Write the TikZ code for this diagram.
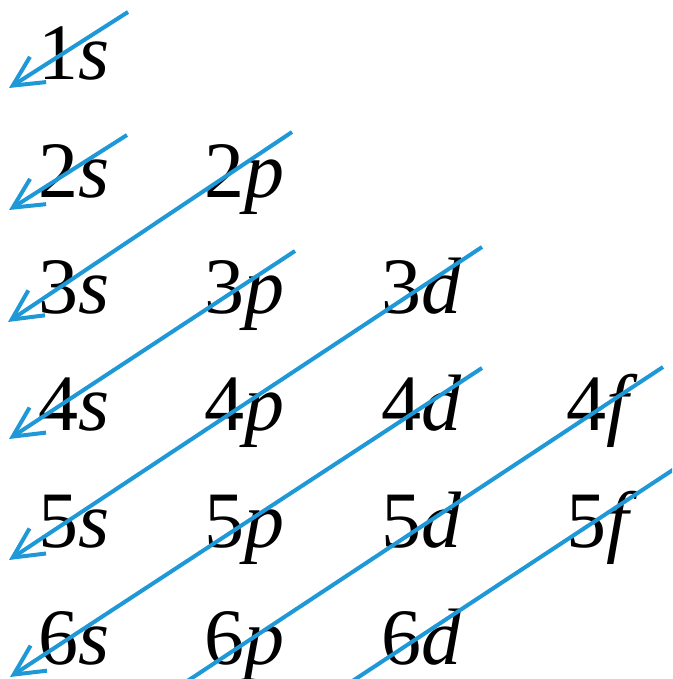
\documentclass[tikz,border=0pt]{standalone}
\usepackage{fontspec}
\setmainfont{Liberation Serif}
\usetikzlibrary{arrows.meta}
\definecolor{lineblue}{RGB}{30,152,215}
\tikzset{
  orb/.style={anchor=base west, inner sep=0pt, font=\fontsize{80}{90}\selectfont},
  order/.style={draw=lineblue, line width=4pt},
  orderarrow/.style={order, -{Straight Barb[length=30pt,width=30pt]}}
}
\newcommand{\orbl}[2]{#1\textit{#2}}
\begin{document}
\begin{tikzpicture}[x=1pt,y=-1pt]
\useasboundingbox (0,0) rectangle (672,679);
% orbital labels
\node[orb] (o1s) at (38,80)  {\orbl{1}{s}};
\node[orb] (o2s) at (38,197) {\orbl{2}{s}};
\node[orb] (o2p) at (204,197) {\orbl{2}{p}};
\node[orb] (o3s) at (38,313) {\orbl{3}{s}};
\node[orb] (o3p) at (204,313) {\orbl{3}{p}};
\node[orb] (o3d) at (381,313) {\orbl{3}{d}};
\node[orb] (o4s) at (38,430) {\orbl{4}{s}};
\node[orb] (o4p) at (204,430) {\orbl{4}{p}};
\node[orb] (o4d) at (381,430) {\orbl{4}{d}};
\node[orb] (o4f) at (566,430) {\orbl{4}{f}};
\node[orb] (o5s) at (38,547) {\orbl{5}{s}};
\node[orb] (o5p) at (204,547) {\orbl{5}{p}};
\node[orb] (o5d) at (381,547) {\orbl{5}{d}};
\node[orb] (o5f) at (566,547) {\orbl{5}{f}};
\node[orb] (o6s) at (38,664) {\orbl{6}{s}};
\node[orb] (o6p) at (204,664) {\orbl{6}{p}};
\node[orb] (o6d) at (381,664) {\orbl{6}{d}};
% line end points
\coordinate (a1) at (128,12);  \coordinate (b1) at (9,88);
\coordinate (a2) at (127,135); \coordinate (b2) at (9,210);
\coordinate (a3) at (292,132); \coordinate (b3) at (8,322);
\coordinate (a4) at (295,251); \coordinate (b4) at (9,439);
\coordinate (a5) at (482,247); \coordinate (b5) at (9,560);
\coordinate (a6) at (482,368); \coordinate (b6) at (10,677);
\coordinate (a7) at (663,367); \coordinate (b7) at (145,709);
\coordinate (a8) at (700,452); \coordinate (b8) at (310,709);
\begin{scope}
\clip (0,0) rectangle (672,679);
\draw[orderarrow] (a1) -- (b1);
\draw[orderarrow] (a2) -- (b2);
\draw[orderarrow] (a3) -- (b3);
\draw[orderarrow] (a4) -- (b4);
\draw[orderarrow] (a5) -- (b5);
\draw[orderarrow] (a6) -- (b6);
\draw[order] (a7) -- (b7);
\draw[order] (a8) -- (b8);
\end{scope}
\end{tikzpicture}
\end{document}
